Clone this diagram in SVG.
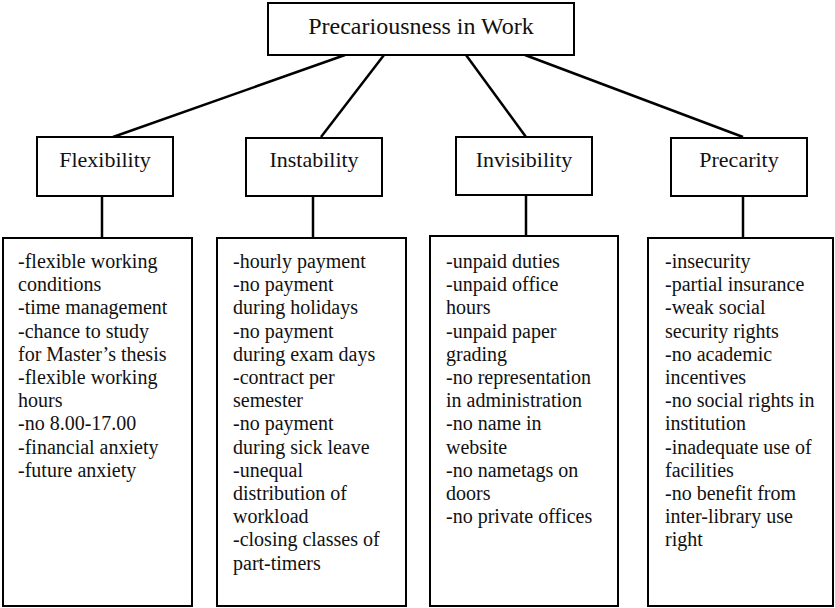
<svg xmlns="http://www.w3.org/2000/svg" width="835" height="608" viewBox="0 0 835 608">
<style>
.box{fill:#fff;stroke:#000;stroke-width:2}
.ln{stroke:#000;stroke-width:2.5;fill:none}
.title{font-family:"Liberation Serif","Times New Roman",serif;font-size:24px;fill:#111;text-anchor:middle}
.cat{font-family:"Liberation Serif","Times New Roman",serif;font-size:22px;fill:#111;text-anchor:middle}
.item{font-family:"Liberation Serif","Times New Roman",serif;font-size:20px;fill:#111}
</style>
<rect width="835" height="608" fill="#fff"/>
<g id="connectors">
<line class="ln" x1="345" y1="55" x2="113" y2="137"/>
<line class="ln" x1="384" y1="55" x2="321" y2="137"/>
<line class="ln" x1="466" y1="55" x2="526" y2="137"/>
<line class="ln" x1="525" y1="55" x2="743" y2="137"/>
<line class="ln" x1="102" y1="196" x2="102" y2="238"/>
<line class="ln" x1="313" y1="196" x2="313" y2="238"/>
<line class="ln" x1="526" y1="195" x2="526" y2="236"/>
<line class="ln" x1="743" y1="196" x2="743" y2="238"/>
</g>
<g id="root">
<rect class="box" x="268" y="3" width="306" height="52"/>
<text class="title" x="421" y="34">Precariousness in Work</text>
</g>
<g id="flexibility">
<rect class="box" x="37" y="137" width="136" height="59"/>
<text class="cat" x="105" y="167">Flexibility</text>
</g>
<g id="instability">
<rect class="box" x="246" y="138" width="136" height="58"/>
<text class="cat" x="314" y="167">Instability</text>
</g>
<g id="invisibility">
<rect class="box" x="456" y="137" width="136" height="58"/>
<text class="cat" x="524" y="167">Invisibility</text>
</g>
<g id="precarity">
<rect class="box" x="671" y="138" width="136" height="58"/>
<text class="cat" x="739" y="167">Precarity</text>
</g>
<g id="flexibility-list">
<rect class="box" x="3" y="238" width="189" height="368"/>
<text class="item" x="18" y="268">
<tspan x="18" dy="0">-flexible working</tspan>
<tspan x="18" dy="23.2">conditions</tspan>
<tspan x="18" dy="23.2">-time management</tspan>
<tspan x="18" dy="23.2">-chance to study</tspan>
<tspan x="18" dy="23.2">for Master’s thesis</tspan>
<tspan x="18" dy="23.2">-flexible working</tspan>
<tspan x="18" dy="23.2">hours</tspan>
<tspan x="18" dy="23.2">-no 8.00-17.00</tspan>
<tspan x="18" dy="23.2">-financial anxiety</tspan>
<tspan x="18" dy="23.2">-future anxiety</tspan>
</text>
</g>
<g id="instability-list">
<rect class="box" x="217" y="238" width="189" height="368"/>
<text class="item" x="233" y="268">
<tspan x="233" dy="0">-hourly payment</tspan>
<tspan x="233" dy="23.2">-no payment</tspan>
<tspan x="233" dy="23.2">during holidays</tspan>
<tspan x="233" dy="23.2">-no payment</tspan>
<tspan x="233" dy="23.2">during exam days</tspan>
<tspan x="233" dy="23.2">-contract per</tspan>
<tspan x="233" dy="23.2">semester</tspan>
<tspan x="233" dy="23.2">-no payment</tspan>
<tspan x="233" dy="23.2">during sick leave</tspan>
<tspan x="233" dy="23.2">-unequal</tspan>
<tspan x="233" dy="23.2">distribution of</tspan>
<tspan x="233" dy="23.2">workload</tspan>
<tspan x="233" dy="23.2">-closing classes of</tspan>
<tspan x="233" dy="23.2">part-timers</tspan>
</text>
</g>
<g id="invisibility-list">
<rect class="box" x="430" y="236" width="188" height="370"/>
<text class="item" x="446" y="268">
<tspan x="446" dy="0">-unpaid duties</tspan>
<tspan x="446" dy="23.2">-unpaid office</tspan>
<tspan x="446" dy="23.2">hours</tspan>
<tspan x="446" dy="23.2">-unpaid paper</tspan>
<tspan x="446" dy="23.2">grading</tspan>
<tspan x="446" dy="23.2">-no representation</tspan>
<tspan x="446" dy="23.2">in administration</tspan>
<tspan x="446" dy="23.2">-no name in</tspan>
<tspan x="446" dy="23.2">website</tspan>
<tspan x="446" dy="23.2">-no nametags on</tspan>
<tspan x="446" dy="23.2">doors</tspan>
<tspan x="446" dy="23.2">-no private offices</tspan>
</text>
</g>
<g id="precarity-list">
<rect class="box" x="648" y="238" width="185" height="368"/>
<text class="item" x="665" y="268">
<tspan x="665" dy="0">-insecurity</tspan>
<tspan x="665" dy="23.2">-partial insurance</tspan>
<tspan x="665" dy="23.2">-weak social</tspan>
<tspan x="665" dy="23.2">security rights</tspan>
<tspan x="665" dy="23.2">-no academic</tspan>
<tspan x="665" dy="23.2">incentives</tspan>
<tspan x="665" dy="23.2">-no social rights in</tspan>
<tspan x="665" dy="23.2">institution</tspan>
<tspan x="665" dy="23.2">-inadequate use of</tspan>
<tspan x="665" dy="23.2">facilities</tspan>
<tspan x="665" dy="23.2">-no benefit from</tspan>
<tspan x="665" dy="23.2">inter-library use</tspan>
<tspan x="665" dy="23.2">right</tspan>
</text>
</g>
</svg>
